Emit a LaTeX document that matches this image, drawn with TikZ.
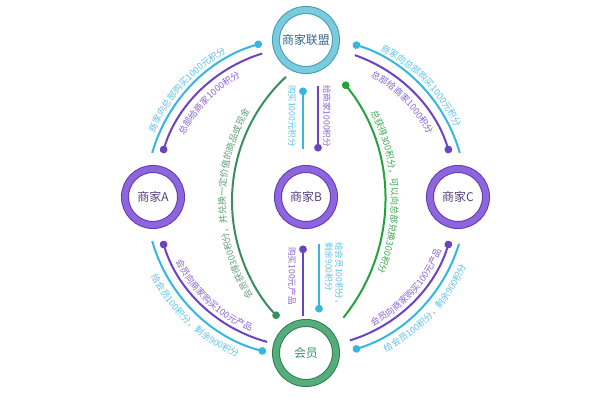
\documentclass[tikz,border=0pt]{standalone}
\usepackage{fontspec}
\setmainfont{Noto Sans CJK SC}
\usetikzlibrary{arrows.meta,decorations.text}

\definecolor{topdark}{HTML}{3E9DB6}
\definecolor{toplight}{HTML}{7CCBDC}
\definecolor{toptext}{HTML}{2F6A88}
\definecolor{purdark}{HTML}{6238BC}
\definecolor{purlight}{HTML}{8C66DA}
\definecolor{purtext}{HTML}{55407E}
\definecolor{grndark}{HTML}{2E7D50}
\definecolor{grnlight}{HTML}{55AD7C}
\definecolor{grntext}{HTML}{3C9462}
\definecolor{cyanline}{HTML}{36B7E0}
\definecolor{cyantxt}{HTML}{5CC2E6}
\definecolor{purline}{HTML}{6C42C2}
\definecolor{purtxt}{HTML}{8762D2}
\definecolor{grnlline}{HTML}{3A8E5C}
\definecolor{grnltxt}{HTML}{5E9E72}
\definecolor{grnrline}{HTML}{22A33C}
\definecolor{grnrtxt}{HTML}{3BA850}

\newcommand\arcfont{\fontsize{6.4}{7}\selectfont}
\newcommand\midfont{\fontsize{6.1}{7}\selectfont}

\tikzset{
  ring/.style={circle, inner sep=0pt, minimum size=1.5cm, line width=0.025cm,
    double distance=0.15cm, fill=white, font=\fontsize{8.5}{10}\selectfont},
  ringtop/.style={ring, draw=topdark, double=toplight, text=toptext},
  ringshop/.style={ring, minimum size=1.4cm, draw=purdark, double=purlight, text=purtext},
  ringmember/.style={ring, draw=grndark, double=grnlight, text=grntext},
  dotln/.style={line width=0.05cm, -{Circle[length=0.19cm]}},
  cyanln/.style={dotln, draw=cyanline},
  purln/.style={dotln, draw=purline},
  grnlln/.style={dotln, draw=grnlline},
  grnrln/.style={dotln, draw=grnrline},
  midcyan/.style={inner sep=0pt, font=\midfont, text=cyantxt, rotate=-90},
  midpur/.style={inner sep=0pt, font=\midfont, text=purtxt, rotate=-90},
  arctext/.style={decorate, decoration={text along path, text align=center, text={#1}}}
}

\begin{document}
\begin{tikzpicture}[x=0.025cm, y=0.025cm]
  \useasboundingbox (-306,-203) rectangle (294,197);

  % circles
  \node[ringtop] (top) at (0,157) {商家联盟};
  \node[ringshop] (A) at (-153,0) {商家A};
  \node[ringshop] (B) at (0,0) {商家B};
  \node[ringshop] (C) at (152,0) {商家C};
  \node[ringmember] (vip) at (0,-156) {会员};

  \coordinate (gl) at (96,-4);
  \coordinate (gr) at (-108,-3);

  % outer arcs around B
  \draw[cyanln] (B.center) ++(164:160) arc[start angle=164, end angle=106, radius=160];
  \draw[purln] (B.center) ++(107:150) arc[start angle=107, end angle=163, radius=150];
  \draw[cyanln] (B.center) ++(16:160) arc[start angle=16, end angle=73, radius=160];
  \draw[purln] (B.center) ++(71:150) arc[start angle=71, end angle=17, radius=150];
  \draw[purln] (B.center) ++(255:150) arc[start angle=255, end angle=197, radius=150];
  \draw[cyanln] (B.center) ++(196:160) arc[start angle=196, end angle=255.5, radius=160];
  \draw[purln] (B.center) ++(287:150) arc[start angle=287, end angle=343, radius=150];
  \draw[cyanln] (B.center) ++(343:160) arc[start angle=343, end angle=287, radius=160];

  % arc labels
  \path[arctext={|\arcfont\color{cyantxt}|商家向总部购买1000元积分}]
    (B.center) ++(167:164.6) arc[start angle=167, end angle=109, radius=164.6];
  \path[arctext={|\arcfont\color{purtxt}|总部给商家1000积分}]
    (B.center) ++(165:136.6) arc[start angle=165, end angle=107, radius=136.6];
  \path[arctext={|\arcfont\color{cyantxt}|商家向总部购买1000元积分}]
    (B.center) ++(73:164.6) arc[start angle=73, end angle=15, radius=164.6];
  \path[arctext={|\arcfont\color{purtxt}|总部给商家1000积分}]
    (B.center) ++(73:136.6) arc[start angle=73, end angle=16, radius=136.6];
  \path[arctext={|\arcfont\color{purtxt}|会员向商家购买100元产品}]
    (B.center) ++(198:145.4) arc[start angle=198, end angle=256, radius=145.4];
  \path[arctext={|\arcfont\color{cyantxt}|给会员100积分，剩余900积分}]
    (B.center) ++(198:174.4) arc[start angle=198, end angle=256, radius=174.4];
  \path[arctext={|\arcfont\color{purtxt}|会员向商家购买100元产品}]
    (B.center) ++(289:145.4) arc[start angle=289, end angle=347, radius=145.4];
  \path[arctext={|\arcfont\color{cyantxt}|给会员100积分，剩余900积分}]
    (B.center) ++(288:174.4) arc[start angle=288, end angle=346, radius=174.4];

  % green arcs
  \draw[grnlln] (gl) ++(133:170) arc[start angle=133, end angle=223.5, radius=170];
  \draw[grnrln] (gr) ++(-39:187) arc[start angle=-39, end angle=39, radius=187];
  \path[arctext={|\arcfont\color{grnltxt}|会员获得300积分，并兑换一定价值的商品或现金}]
    (gl) ++(226:176.6) arc[start angle=226, end angle=136, radius=176.6];
  \path[arctext={|\arcfont\color{grnrtxt}|总获得300积分，可以向总部兑换300积分}]
    (gr) ++(42.5:193.5) arc[start angle=42.5, end angle=-37.5, radius=193.5];

  % middle lines
  \draw[cyanln] ([shift={(-3,19)}]B.north) -- ([shift={(-3,-17)}]top.south);
  \draw[purln] ([shift={(12,-15)}]top.south) -- ([shift={(12,17)}]B.north);
  \draw[purln] ([shift={(-3,6)}]vip.north) -- ([shift={(-3,-20)}]B.south);
  \draw[cyanln] ([shift={(13,-18)}]B.south) -- ([shift={(13,10)}]vip.north);

  \node[midcyan] (buy1) at (-14,81) {购买1000元积分};
  \node[midpur] (give1) at (21,81) {给商家1000积分};
  \node[midpur] (buy2) at (-14,-79) {购买100元产品};
  \node[midcyan, anchor=west] (give2) at (33,-45) {给会员100积分，};
  \node[midcyan, anchor=west] (rest2) at (23,-45) {剩余900积分};
\end{tikzpicture}
\end{document}
